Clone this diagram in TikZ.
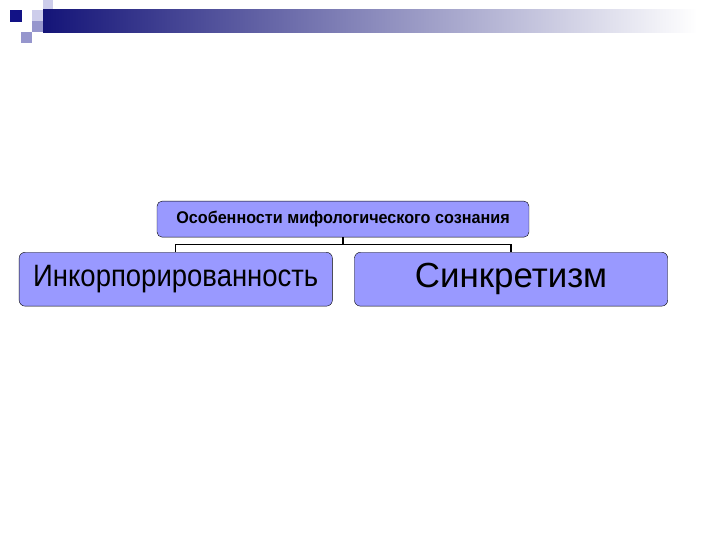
\documentclass[tikz,border=0pt]{standalone}
\usepackage{fontspec}
\setmainfont{Liberation Sans}
\usetikzlibrary{shapes,arrows,positioning}
\definecolor{boxfill}{RGB}{153,153,255}
\definecolor{navy}{RGB}{20,20,120}
\definecolor{lilac}{RGB}{205,205,235}
\definecolor{midlilac}{RGB}{150,150,205}
\tikzstyle{head} = [rectangle, draw, fill=boxfill, rounded corners=5pt,
    minimum width=13.12cm, minimum height=1.27cm, font=\fontsize{17}{20}\selectfont\bfseries]
\tikzstyle{leaf} = [rectangle, draw, fill=boxfill, rounded corners=6pt,
    minimum width=11.05cm, minimum height=1.9cm]
\tikzstyle{line} = [draw, line width=1.2pt]

\begin{document}
\begin{tikzpicture}[node distance = 2cm, auto]
    \useasboundingbox (0,0) rectangle (25.4,-19.05);
    % Title decoration
    \fill[lilac] (1.52,0) rectangle (1.87,-0.35);
    \fill[lilac] (1.13,-0.35) rectangle (1.87,-0.74);
    \fill[midlilac] (1.13,-0.74) rectangle (1.52,-1.13);
    \fill[midlilac] (0.74,-1.13) rectangle (1.13,-1.52);
    \shade[left color=navy, right color=white] (1.52,-0.35) rectangle (24.6,-1.13);
    \fill[navy!90!blue] (0.35,-0.35) rectangle (0.78,-0.78);

    % Place nodes
    \node [head] at (12.10,-7.73) (osob) {\scalebox{0.955}[1]{Особенности мифологического сознания}};
    \node [leaf, below of=osob, node distance=2.12cm, xshift=-5.9cm,
        font=\fontsize{31}{36}\selectfont] (incorp) {\scalebox{0.89}[1]{Инкорпорированность}};
    \node [leaf, below of=osob, node distance=2.12cm, xshift=5.93cm,
        font=\fontsize{35}{42}\selectfont] (sinkr) {Синкретизм};

    % Draw edges
    \path [line] (osob.south) -- ++(0,-0.25) -| (incorp.north);
    \path [line] (osob.south) -- ++(0,-0.25) -| (sinkr.north);
\end{tikzpicture}
\end{document}
